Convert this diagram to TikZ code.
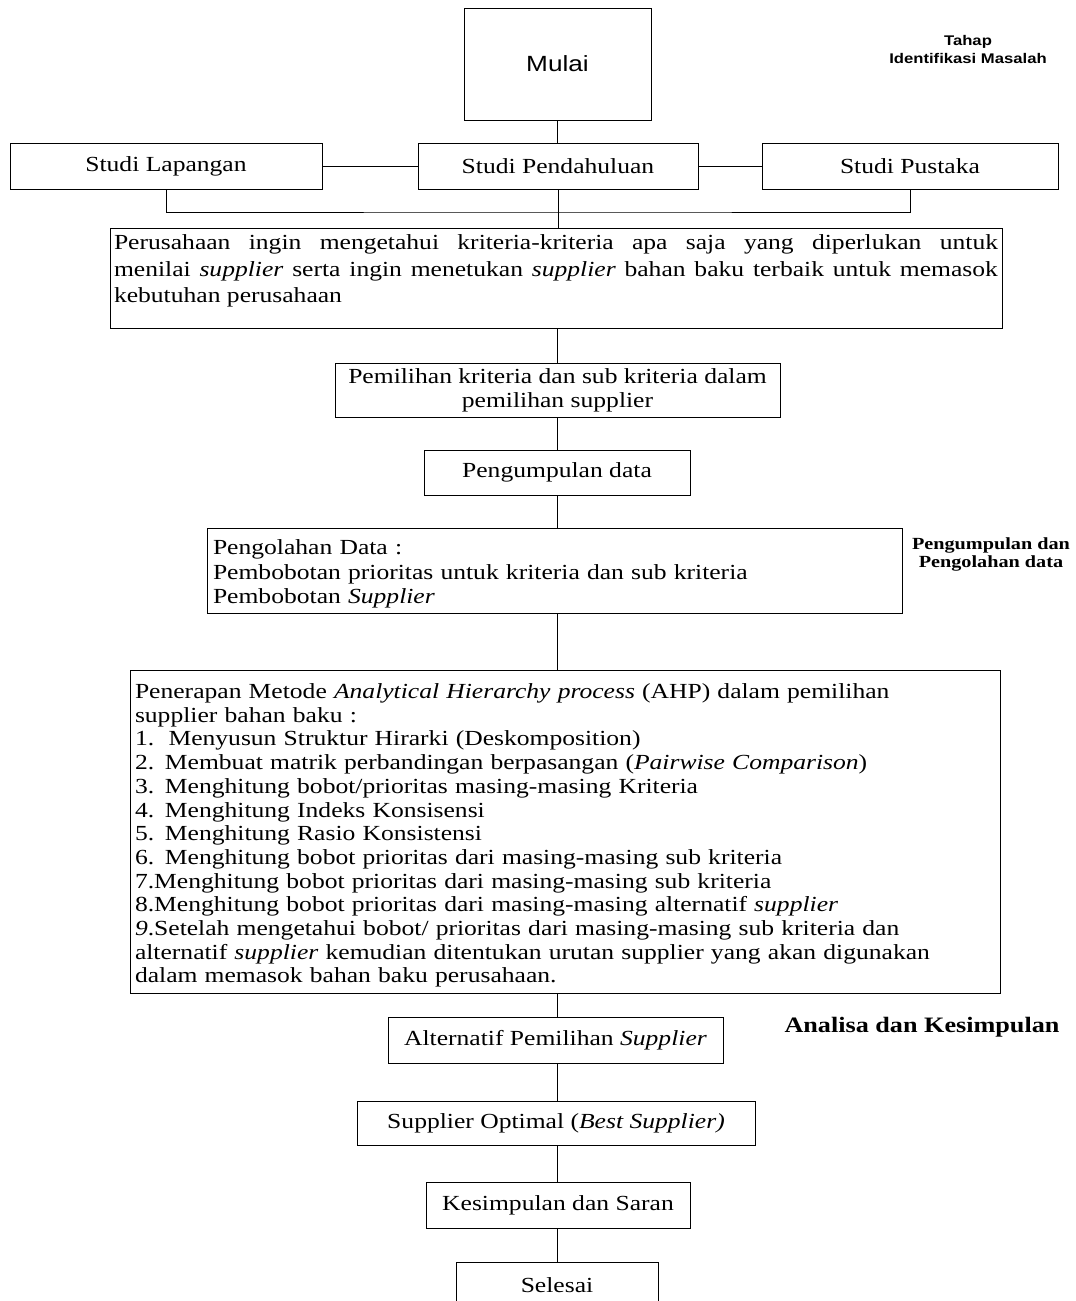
\documentclass[tikz,border=0pt]{standalone}
\usepackage{fontspec}
\setmainfont{Liberation Serif}[FakeStretch=1.19]
\setsansfont{Liberation Sans}[FakeStretch=1.19]
\usepackage{tikz}

\begin{document}
\begin{tikzpicture}[x=1pt, y=-1pt,
        box/.style={draw, black, inner sep=0pt, font={\fontsize{21.5}{24}\selectfont}, align=center},
        textbox/.style={draw, black, inner xsep=5pt, inner ysep=0pt, font={\fontsize{21.5}{24.5}\selectfont}},
        stage/.style={font={\bfseries\fontsize{17}{18}\selectfont}, align=center}]
    \useasboundingbox (0,0) rectangle (1076,1301);

    % tahap identifikasi masalah
    \node[box, font={\sffamily\fontsize{22}{24}\selectfont}, minimum width=187pt, minimum height=112pt] (mulai) at (557.5,64) {Mulai};
    \node[box, minimum width=312pt, minimum height=46pt] (lapangan) at (166,166) {Studi Lapangan};
    \node[box, minimum width=280pt, minimum height=46pt] (pendahuluan) at (558,166) {Studi Pendahuluan};
    \node[box, minimum width=296pt, minimum height=46pt] (pustaka) at (910,166) {Studi Pustaka};
    \coordinate (brk) at (557,212);
    \node[textbox, inner xsep=4pt, text width=884pt, minimum height=100pt, align=justify,
          font={\fontsize{21.5}{26.5}\selectfont}] (masalah) at (556,278)
        {Perusahaan ingin mengetahui kriteria-kriteria apa saja yang diperlukan untuk\linebreak
         menilai \textit{supplier} serta ingin menetukan \textit{supplier} bahan baku terbaik untuk memasok\linebreak
         kebutuhan perusahaan\rule[-18pt]{0pt}{18pt}};
    \node[stage, font={\sffamily\bfseries\fontsize{14}{18}\selectfont}] (tahap) at (968,49) {Tahap\\Identifikasi Masalah};

    % pengumpulan dan pengolahan data
    \node[box, minimum width=445pt, minimum height=54pt] (kriteria) at (557.5,390) {Pemilihan kriteria dan sub kriteria dalam\\pemilihan supplier};
    \node[box, minimum width=266pt, minimum height=45pt] (kumpul) at (557,472.5) {Pengumpulan data};
    \node[textbox, inner xsep=6pt, text width=683pt, minimum height=85pt, align=left] (olah) at (554.5,570.5)
        {\rule{0pt}{22pt}Pengolahan Data :\\
         Pembobotan prioritas untuk kriteria dan sub kriteria\\
         Pembobotan \textit{Supplier}};
    \node[stage] (tahapolah) at (991,554) {Pengumpulan dan\\Pengolahan data};

    % metode AHP
    \node[textbox, text width=860pt, minimum height=323pt, align=left, font={\fontsize{21.5}{23.7}\selectfont}] (ahp) at (565,831.5)
        {\rule{0pt}{23pt}Penerapan Metode \textit{Analytical Hierarchy process} (AHP) dalam pemilihan\\
         supplier bahan baku :\\
         1.\ \ Menyusun Struktur Hirarki (Deskomposition)\\
         2. Membuat matrik perbandingan berpasangan (\textit{Pairwise Comparison})\\
         3. Menghitung bobot/prioritas masing-masing Kriteria\\
         4. Menghitung Indeks Konsisensi\\
         5. Menghitung Rasio Konsistensi\\
         6. Menghitung bobot prioritas dari masing-masing sub kriteria\\
         7.Menghitung bobot prioritas dari masing-masing sub kriteria\\
         8.Menghitung bobot prioritas dari masing-masing alternatif \textit{supplier}\\
         \textit{9}.Setelah mengetahui bobot/ prioritas dari masing-masing sub kriteria dan\\
         alternatif \textit{supplier} kemudian ditentukan urutan supplier yang akan digunakan\\
         dalam memasok bahan baku perusahaan.};

    % analisa dan kesimpulan
    \node[box, minimum width=335pt, minimum height=46pt] (alternatif) at (555.5,1040) {Alternatif Pemilihan \textit{Supplier}};
    \node[stage, font={\bfseries\fontsize{22}{22}\selectfont}] (tahapanalisa) at (922,1027) {Analisa dan Kesimpulan};
    \node[box, minimum width=398pt, minimum height=44pt] (optimal) at (556,1123) {Supplier Optimal (\textit{Best Supplier)}};
    \node[box, minimum width=264pt, minimum height=46pt] (saran) at (558,1205) {Kesimpulan dan Saran};
    \node[box, minimum width=202pt, minimum height=46pt] (selesai) at (557,1285) {Selesai};

    % garis penghubung
    \draw (mulai.south) -- (mulai.south |- pendahuluan.north);
    \draw (lapangan.east) -- (pendahuluan.west);
    \draw (pendahuluan.east) -- (pustaka.west);
    \draw (lapangan.south) |- (brk) -| (pustaka.south);
    \draw (pendahuluan.south) -- (pendahuluan.south |- masalah.north);
    \draw (brk |- masalah.south) -- (brk |- kriteria.north);
    \draw (brk |- kriteria.south) -- (brk |- kumpul.north);
    \draw (brk |- kumpul.south) -- (brk |- olah.north);
    \draw (brk |- olah.south) -- (brk |- ahp.north);
    \draw (brk |- ahp.south) -- (brk |- alternatif.north);
    \draw (brk |- alternatif.south) -- (brk |- optimal.north);
    \draw (brk |- optimal.south) -- (brk |- saran.north);
    \draw (brk |- saran.south) -- (brk |- selesai.north);
\end{tikzpicture}
\end{document}
